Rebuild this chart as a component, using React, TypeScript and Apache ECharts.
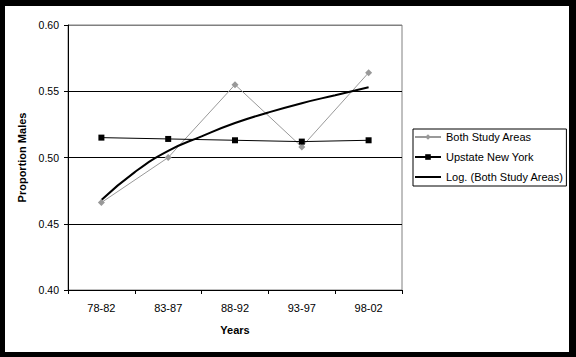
import React, { useEffect, useRef } from "react";
import * as echarts from "echarts";

const categories = ["78-82", "83-87", "88-92", "93-97", "98-02"];
const bothStudyAreas = [0.466, 0.5, 0.555, 0.508, 0.564];
const upstateNewYork = [0.515, 0.514, 0.513, 0.512, 0.513];
// logarithmic trend line at category positions 1..5 (and half steps)
const trendX = [1, 1.5, 2, 2.5, 3, 3.5, 4, 4.5, 5];
const trendY = [0.468, 0.489, 0.505, 0.516, 0.526, 0.534, 0.541, 0.547, 0.553];
const yTicks = { min: 0.4, max: 0.6, interval: 0.05 };

const FONT = "'Liberation Sans', Arial, sans-serif";

export default function App() {
  const ref = useRef<HTMLDivElement>(null);
  useEffect(() => {
    if (!ref.current) return;
    const chart = echarts.init(ref.current, undefined, { renderer: "svg" });
    chart.setOption({
      animation: false,
      backgroundColor: "#ffffff",
      textStyle: { fontFamily: FONT, color: "#000" },
      graphic: [
        { type: "rect", shape: { x: 0, y: 0, width: 576, height: 6 }, style: { fill: "#000" } },
        { type: "rect", shape: { x: 0, y: 0, width: 5, height: 357 }, style: { fill: "#000" } },
        { type: "rect", shape: { x: 569, y: 0, width: 7, height: 357 }, style: { fill: "#000" } },
        { type: "rect", shape: { x: 0, y: 352, width: 576, height: 5 }, style: { fill: "#000" } },
      ],
      grid: {
        left: 68,
        top: 25,
        width: 334,
        height: 265,
        show: true,
        borderColor: "#808080",
        borderWidth: 1,
        backgroundColor: "#fff",
      },
      legend: {
        orient: "vertical",
        left: 413,
        top: 129,
        padding: [1, 3, 2, 1],
        itemGap: 6,
        itemWidth: 26,
        itemHeight: 7,
        backgroundColor: "#fff",
        borderColor: "#000",
        borderWidth: 1,
        borderRadius: 0,
        textStyle: { fontFamily: FONT, fontSize: 11, color: "#000", lineHeight: 14 },
        data: [
          { name: "Both Study Areas" },
          { name: "Upstate New York" },
          { name: "Log. (Both Study Areas)", itemStyle: { color: "rgba(0,0,0,0)", opacity: 0 } },
        ],
      },
      xAxis: [
        {
          type: "category",
          data: categories,
          boundaryGap: true,
          name: "Years",
          nameLocation: "middle",
          nameGap: 34,
          nameTextStyle: { fontFamily: FONT, fontSize: 11, fontWeight: "bold", color: "#000" },
          axisLine: { show: true, lineStyle: { color: "#000", width: 1 } },
          axisTick: { show: true, length: 4, lineStyle: { color: "#000" } },
          axisLabel: { fontFamily: FONT, fontSize: 11, color: "#000", margin: 12 },
          splitLine: { show: false },
        },
        {
          type: "value",
          min: 0.5,
          max: 5.5,
          show: false,
          position: "bottom",
        },
      ],
      yAxis: {
        type: "value",
        min: yTicks.min,
        max: yTicks.max,
        interval: yTicks.interval,
        name: "Proportion Males",
        nameLocation: "middle",
        nameGap: 26,
        nameRotate: 90,
        nameTextStyle: { fontFamily: FONT, fontSize: 11, fontWeight: "bold", color: "#000" },
        axisLine: { show: true, lineStyle: { color: "#000", width: 1 } },
        axisTick: { show: true, length: 4, lineStyle: { color: "#000" } },
        axisLabel: {
          fontFamily: FONT,
          fontSize: 10.5,
          color: "#000",
          margin: 9,
          formatter: (v: number) => v.toFixed(2),
        },
        splitLine: {
          show: true,
          lineStyle: { color: ["#000", "#000", "#000", "#000", "#808080"], width: 1 },
        },
      },
      series: [
        {
          name: "Both Study Areas",
          type: "line",
          data: bothStudyAreas,
          symbol: "diamond",
          symbolSize: 7,
          showSymbol: true,
          lineStyle: { color: "#999999", width: 1 },
          itemStyle: { color: "#999999" },
        },
        {
          name: "Upstate New York",
          type: "line",
          data: upstateNewYork,
          symbol: "rect",
          symbolSize: 6,
          lineStyle: { color: "#000", width: 1 },
          itemStyle: { color: "#000" },
        },
        {
          name: "Log. (Both Study Areas)",
          type: "line",
          xAxisIndex: 1,
          data: trendX.map((x, i) => [x, trendY[i]]),
          smooth: 0.5,
          symbol: "none",
          lineStyle: { color: "#000", width: 2 },
          itemStyle: { color: "#000" },
        },
      ],
    });
    return () => chart.dispose();
  }, []);
  return (
    <div
      ref={ref}
      style={{ position: "absolute", left: 0, top: 0, width: 576, height: 357 }}
    />
  );
}
